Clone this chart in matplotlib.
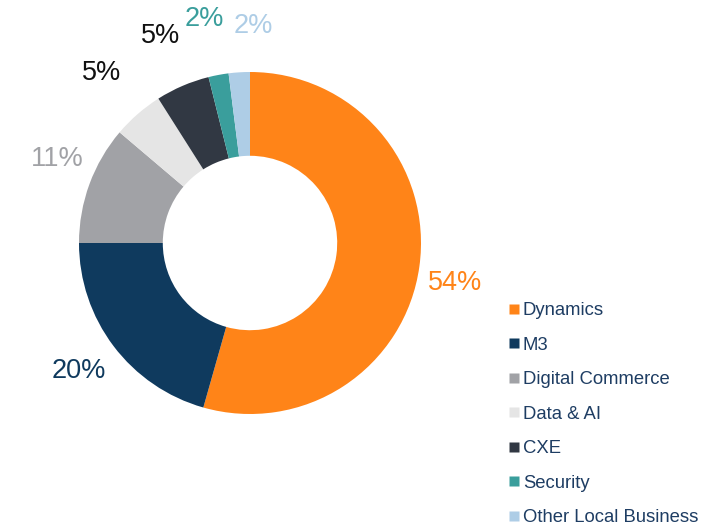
import numpy as np
import matplotlib
matplotlib.use("Agg")
import matplotlib.pyplot as plt
from matplotlib.lines import Line2D

plt.rcParams['font.family'] = ['Liberation Sans', 'DejaVu Sans']

# data
segments = ['Dynamics', 'M3', 'Digital Commerce', 'Data & AI', 'CXE',
            'Security', 'Other Local Business']
shares = [54.4, 20.6, 11.2, 4.8, 5.1, 1.9, 2.0]
pct_labels = ['54%', '20%', '11%', '5%', '5%', '2%', '2%']

colors = ['#FF8418', '#0F3A5E', '#A1A2A6', '#E5E5E5', '#313843',
          '#3A9E9C', '#AECDE6']
label_colors = ['#FF8418', '#0F3A5E', '#A1A2A6', '#111111', '#111111',
                '#3A9E9C', '#AECDE6']
# radial distance / angular nudge (deg) of each percentage label
label_r = [1.22, 1.25, 1.23, 1.32, 1.32, 1.34, 1.27]
label_nudge = [-3, -0.4, -3.3, 0, 0, 1, -4.4]

W, H = 721, 527
fig = plt.figure(figsize=(W / 100, H / 100), dpi=100)

# donut centre and radius in pixels
cx, cy, R = 250, 243, 171
span = 1.5
side = 2 * span * R
ax = fig.add_axes([(cx - side / 2) / W, (H - cy - side / 2) / H, side / W, side / H])

wedges, _ = ax.pie(shares, colors=colors, startangle=90, counterclock=False,
                   radius=1, wedgeprops=dict(width=0.49, edgecolor='none'))
ax.set_xlim(-span, span)
ax.set_ylim(-span, span)
ax.axis('off')

for w, lab, col, r, nd in zip(wedges, pct_labels, label_colors, label_r, label_nudge):
    ang = np.deg2rad((w.theta1 + w.theta2) / 2 + nd)
    ax.text(r * np.cos(ang), r * np.sin(ang), lab, color=col, fontsize=19.5,
            ha='center', va='center', clip_on=False)

handles = [Line2D([0], [0], marker='s', linestyle='none', markersize=6.5,
                  markerfacecolor=c, markeredgecolor='none') for c in colors]
leg = fig.legend(handles, segments, loc='upper left',
                 bbox_to_anchor=(509 / W, 1 - 302 / H), frameon=False,
                 fontsize=13.3, handlelength=0.55, handletextpad=0.2,
                 labelspacing=0.95, borderpad=0, borderaxespad=0)
for t in leg.get_texts():
    t.set_color('#1E3D63')

fig.savefig('out.png', dpi=100)
